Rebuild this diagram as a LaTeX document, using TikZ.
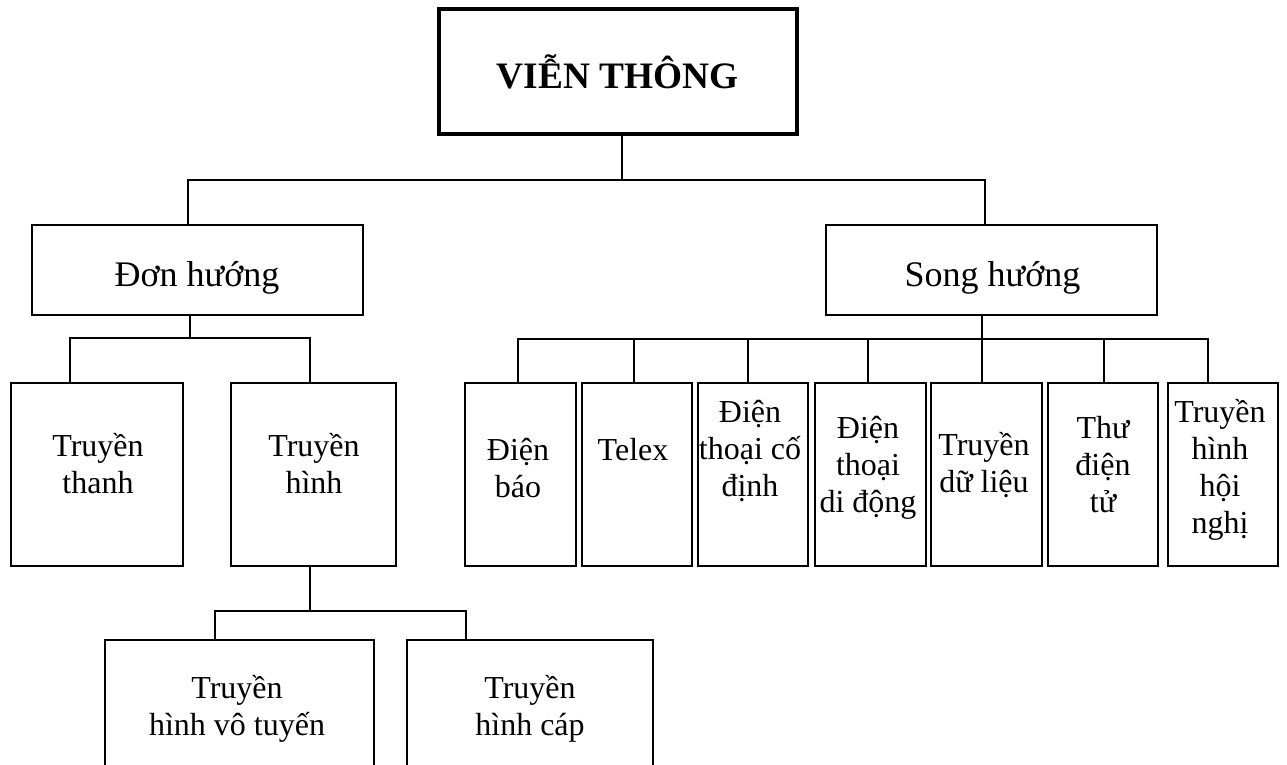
\documentclass[tikz,border=0pt]{standalone}
\usepackage{fontspec}
\setmainfont{Liberation Serif}
\begin{document}
\begin{tikzpicture}[x=0.75pt,y=-0.75pt,
  box/.style={draw,line width=1.5pt,inner sep=0pt},
  sz/.style 2 args={minimum width=#1*0.75pt,minimum height=#2*0.75pt},
  lbl/.style={align=center,inner sep=0pt,anchor=base,font=\fontsize{24}{27.75}\selectfont},
  mid/.style={inner sep=0pt,anchor=base,font=\fontsize{27}{31}\selectfont},
  conn/.style={line width=1.5pt,line cap=rect}]
\useasboundingbox (0,0) rectangle (1287,764);
% boxes
\node[box,line width=3pt,sz={358}{125}] (title) at (618,71.7) {};
\node[box,sz={331}{90}] (don) at (197.5,270) {};
\node[box,sz={331}{90}] (song) at (991.5,270) {};
\node[box,sz={172}{183}] (thanh) at (97,474.5) {};
\node[box,sz={165}{183}] (hinh) at (313.5,474.5) {};
\node[box,sz={269}{160}] (vt) at (239.5,720) {};
\node[box,sz={246}{160}] (cap) at (530,720) {};
\node[box,sz={111}{183}] (r1) at (520.5,474.5) {};
\node[box,sz={110}{183}] (r2) at (637,474.5) {};
\node[box,sz={110}{183}] (r3) at (753,474.5) {};
\node[box,sz={111}{183}] (r4) at (870.5,474.5) {};
\node[box,sz={111}{183}] (r5) at (986.5,474.5) {};
\node[box,sz={110}{183}] (r6) at (1103,474.5) {};
\node[box,sz={110}{183}] (r7) at (1223,474.5) {};
% texts (anchor base = baseline of the last line)
\node[inner sep=0pt,anchor=base,font=\fontsize{28}{32}\selectfont\bfseries] (ttitle) at (617.5,88.3) {VIỄN THÔNG};
\node[mid] (tdon) at (197,286) {Đơn hướng};
\node[mid] (tsong) at (992.5,286) {Song hướng};
\node[lbl] (tthanh) at (98,493) {Truyền\\thanh};
\node[lbl] (thinh) at (314,493) {Truyền\\hình};
\node[lbl] (tvt) at (237,735) {Truyền\\hình vô tuyến};
\node[lbl] (tcap) at (530,735) {Truyền\\hình cáp};
\node[lbl] (tr1) at (518,497) {Điện\\báo};
\node[lbl] (tr2) at (633,460) {Telex};
\node[lbl] (tr3) at (750,496) {Điện\\thoại cố\\định};
\node[lbl] (tr4) at (868,512) {Điện\\thoại\\di động};
\node[lbl] (tr5) at (984,492) {Truyền\\dữ liệu};
\node[lbl] (tr6) at (1103,512) {Thư\\điện\\tử};
\node[lbl] (tr7) at (1220,533) {Truyền\\hình\\hội\\nghị};
% junction coordinates
\coordinate (jT) at (622,180);
\coordinate (tL) at (188,180);
\coordinate (tR) at (985,180);
\coordinate (jD) at (190,338);
\coordinate (dL) at (70,338);
\coordinate (dR) at (310,338);
\coordinate (jH) at (310,611);
\coordinate (hL) at (215,611);
\coordinate (hR) at (466,611);
\coordinate (jS) at (982,339);
\coordinate (s1) at (518,339);
\coordinate (s2) at (634,339);
\coordinate (s3) at (748,339);
\coordinate (s4) at (868,339);
\coordinate (s5) at (982,339);
\coordinate (s6) at (1104,339);
\coordinate (s7) at (1208,339);
% connectors
\draw[conn] (title.south -| jT) -- (jT);
\draw[conn] (tL) -- (tR);
\draw[conn] (tL) -- (tL |- don.north);
\draw[conn] (tR) -- (tR |- song.north);
\draw[conn] (don.south -| jD) -- (jD);
\draw[conn] (dL) -- (dR);
\draw[conn] (dL) -- (dL |- thanh.north);
\draw[conn] (dR) -- (dR |- hinh.north);
\draw[conn] (hinh.south -| jH) -- (jH);
\draw[conn] (hL) -- (hR);
\draw[conn] (hL) -- (hL |- vt.north);
\draw[conn] (hR) -- (hR |- cap.north);
\draw[conn] (song.south -| jS) -- (jS);
\draw[conn] (s1) -- (s7);
\draw[conn] (s1) -- (s1 |- r1.north);
\draw[conn] (s2) -- (s2 |- r2.north);
\draw[conn] (s3) -- (s3 |- r3.north);
\draw[conn] (s4) -- (s4 |- r4.north);
\draw[conn] (s5) -- (s5 |- r5.north);
\draw[conn] (s6) -- (s6 |- r6.north);
\draw[conn] (s7) -- (s7 |- r7.north);
\end{tikzpicture}
\end{document}
